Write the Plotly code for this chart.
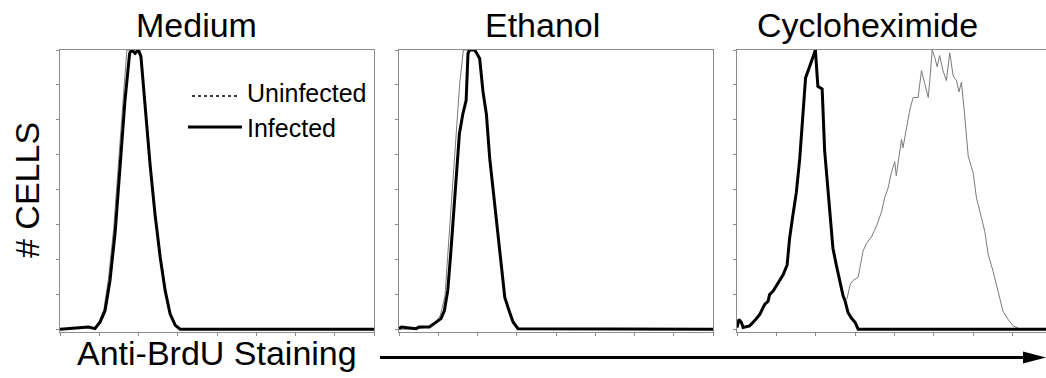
import plotly.graph_objects as go

# ---------------- data (fluorescence channel 0-1024, % of max) ----------------
panel_titles = ["Medium", "Ethanol", "Cycloheximide"]
series_names = ["Uninfected", "Infected"]

medium_inf_x = [0, 76, 93, 114, 131, 147, 163, 180, 196, 212, 227, 234, 245, 256, 264, 278, 294, 310, 327, 343, 359, 376, 392, 1024]
medium_inf_y = [0, 0.6, 0.8, 0.2, 2.6, 6.7, 17.4, 35, 58.7, 82, 98.8, 100, 98.8, 100, 97.6, 78.7, 58.7, 41, 25.6, 13.8, 5.5, 1.4, 0, 0]
medium_uninf_x = [0, 76, 93, 110, 127, 143, 158, 175, 191, 206, 218, 234, 256, 264, 278, 294, 310, 327, 343, 359, 376, 392, 1024]
medium_uninf_y = [0, 0.6, 0.8, 0.2, 2.6, 7, 18, 36, 60, 84, 100, 100, 100, 97.6, 78.7, 58.7, 41, 25.6, 13.8, 5.5, 1.4, 0, 0]

ethanol_inf_x = [0, 8, 55, 66, 99, 120, 137, 148, 159, 170, 184, 197, 208, 219, 225, 230, 247, 263, 274, 285, 296, 312, 328, 345, 361, 372, 388, 1024]
ethanol_inf_y = [0.2, 0.8, 0.2, 0.8, 0.8, 2.6, 3.8, 6.7, 13.8, 29, 49, 70, 77, 82, 98.8, 100, 100, 97, 85, 77, 61, 44, 29, 11.4, 6, 2.6, 0.2, 0]
ethanol_uninf_x = [0, 55, 99, 120, 135, 150, 160, 172, 185, 198, 210, 230, 247, 263, 274, 285, 296, 312, 328, 345, 361, 372, 388, 1024]
ethanol_uninf_y = [0, 0, 1, 2.6, 5, 12, 28, 48, 70, 88, 100, 100, 100, 97, 85, 77, 61, 44, 29, 11.4, 6, 2.6, 0.2, 0]

chx_inf_x = [0, 6.5, 14, 20, 41, 57, 74, 90, 101, 106, 117, 133, 150, 163, 171, 182, 193, 204, 215, 223, 236, 247, 255, 263, 277, 285, 296, 307, 312, 323, 334, 345, 351, 361, 372, 384, 394, 1024]
chx_inf_y = [0.6, 3.5, 2.5, 0.6, 1.2, 3, 5.3, 8.9, 10, 12.4, 13.6, 16.5, 19.5, 23, 32.5, 41, 49, 61, 78.5, 90, 94, 98, 100, 87, 86, 64, 49, 35, 29, 23, 17, 12, 10.3, 6, 4, 2.5, 0, 0]
chx_uninf_x = [351, 358, 368, 377, 394, 410, 421, 437, 454, 470, 480, 491, 502, 513, 518, 529, 535, 540, 551, 562, 573, 589, 600, 611, 622, 627, 635, 643, 651, 659, 670, 681, 692, 703, 714, 722, 730, 741, 752, 768, 779, 795, 806, 817, 833, 849, 865, 882, 898, 914, 920]
chx_uninf_y = [10.3, 11, 16, 17.4, 18.6, 28, 30.7, 33, 37, 42, 47, 50.4, 56, 60, 55, 64.5, 68, 65, 72.6, 78.6, 83, 83, 92.6, 88, 83, 89, 100, 97.4, 94, 98, 92.6, 89, 99, 90.7, 89, 85, 88.5, 76, 62, 56, 47, 40, 35, 26.8, 20.7, 13.6, 6.5, 3.5, 1.2, 0.4, 0]

x_ticks = [0, 128, 256, 384, 512, 640, 768, 896, 1024]
y_ticks = [0, 12.5, 25, 37.5, 50, 62.5, 75, 87.5, 100]

panels = [
    (medium_uninf_x, medium_uninf_y, medium_inf_x, medium_inf_y),
    (ethanol_uninf_x, ethanol_uninf_y, ethanol_inf_x, ethanol_inf_y),
    (chx_uninf_x, chx_uninf_y, chx_inf_x, chx_inf_y),
]

FW, FH = 1046, 378


def px(x):
    return x / FW


def py(y):
    return 1 - y / FH


x_domains = [[px(60), px(374)], [px(399), px(713)], [px(737), 1.0]]
x_ranges = [[0, 1024], [0, 1024], [0, 1005]]
y_domain = [py(332), py(50)]

fig = go.Figure()
for i, (ux, uy, ix, iy) in enumerate(panels):
    sfx = "" if i == 0 else str(i + 1)
    fig.add_trace(go.Scatter(x=ux, y=uy, mode="lines", xaxis="x" + sfx, yaxis="y" + sfx,
                             line=dict(color="#7a7a7a", width=1), showlegend=False, hoverinfo="skip",
                             name=series_names[0]))
    fig.add_trace(go.Scatter(x=ix, y=iy, mode="lines", xaxis="x" + sfx, yaxis="y" + sfx,
                             line=dict(color="black", width=3), showlegend=False, hoverinfo="skip",
                             name=series_names[1]))

axis_common = dict(showgrid=False, zeroline=False, showline=True, linecolor="#8c8c8c", linewidth=1,
                   ticks="outside", ticklen=3, tickcolor="#8c8c8c", showticklabels=False, fixedrange=True)
layout = dict(width=FW, height=FH, margin=dict(l=0, r=0, t=0, b=0),
              plot_bgcolor="white", paper_bgcolor="white",
              font=dict(family="Liberation Sans, Arial, sans-serif", color="black"),
              showlegend=False)
for i in range(3):
    sfx = "" if i == 0 else str(i + 1)
    layout["xaxis" + sfx] = dict(axis_common, domain=x_domains[i], range=x_ranges[i],
                                 tickvals=x_ticks, mirror=True, anchor="y" + sfx)
    layout["yaxis" + sfx] = dict(axis_common, domain=y_domain, range=[-1, 100],
                                 tickvals=y_ticks, mirror=(i < 2), anchor="x" + sfx)
fig.update_layout(**layout)

# panel titles
title_x = [196, 542, 867]
for t, tx in zip(panel_titles, title_x):
    fig.add_annotation(text=t, x=px(tx), y=py(25), xref="paper", yref="paper",
                       xanchor="center", yanchor="middle", showarrow=False, font=dict(size=34))

fig.add_annotation(text="# CELLS", x=px(27), y=py(190), xref="paper", yref="paper",
                   textangle=-90, xanchor="center", yanchor="middle", showarrow=False, font=dict(size=34))
fig.add_annotation(text="Anti-BrdU Staining", x=px(217), y=py(353), xref="paper", yref="paper",
                   xanchor="center", yanchor="middle", showarrow=False, font=dict(size=34))

# legend (drawn as key samples + text)
fig.add_shape(type="line", xref="paper", yref="paper", x0=px(192), x1=px(240), y0=py(96), y1=py(96),
              line=dict(color="black", width=1.5, dash="dot"))
fig.add_shape(type="line", xref="paper", yref="paper", x0=px(188), x1=px(242), y0=py(127), y1=py(127),
              line=dict(color="black", width=3))
fig.add_annotation(text=series_names[0], x=px(245), y=py(93), xref="paper", yref="paper",
                   xanchor="left", yanchor="middle", showarrow=False, font=dict(size=25))
fig.add_annotation(text=series_names[1], x=px(245), y=py(128), xref="paper", yref="paper",
                   xanchor="left", yanchor="middle", showarrow=False, font=dict(size=25))

# arrow
fig.add_shape(type="line", xref="paper", yref="paper", x0=px(380), x1=px(1028),
              y0=py(357.5), y1=py(357.5), line=dict(color="black", width=3))
fig.add_shape(type="path", xref="paper", yref="paper",
              path=f"M {px(1023)} {py(351.5)} L {px(1046)} {py(357.5)} L {px(1023)} {py(363.5)} Z",
              fillcolor="black", line=dict(color="black", width=0))

# remove the default 8px page margin so the figure fills the window exactly; hide the modebar
fig.write_html("out.html", config={"displayModeBar": False},
               post_script="document.body.style.margin='0px';")
